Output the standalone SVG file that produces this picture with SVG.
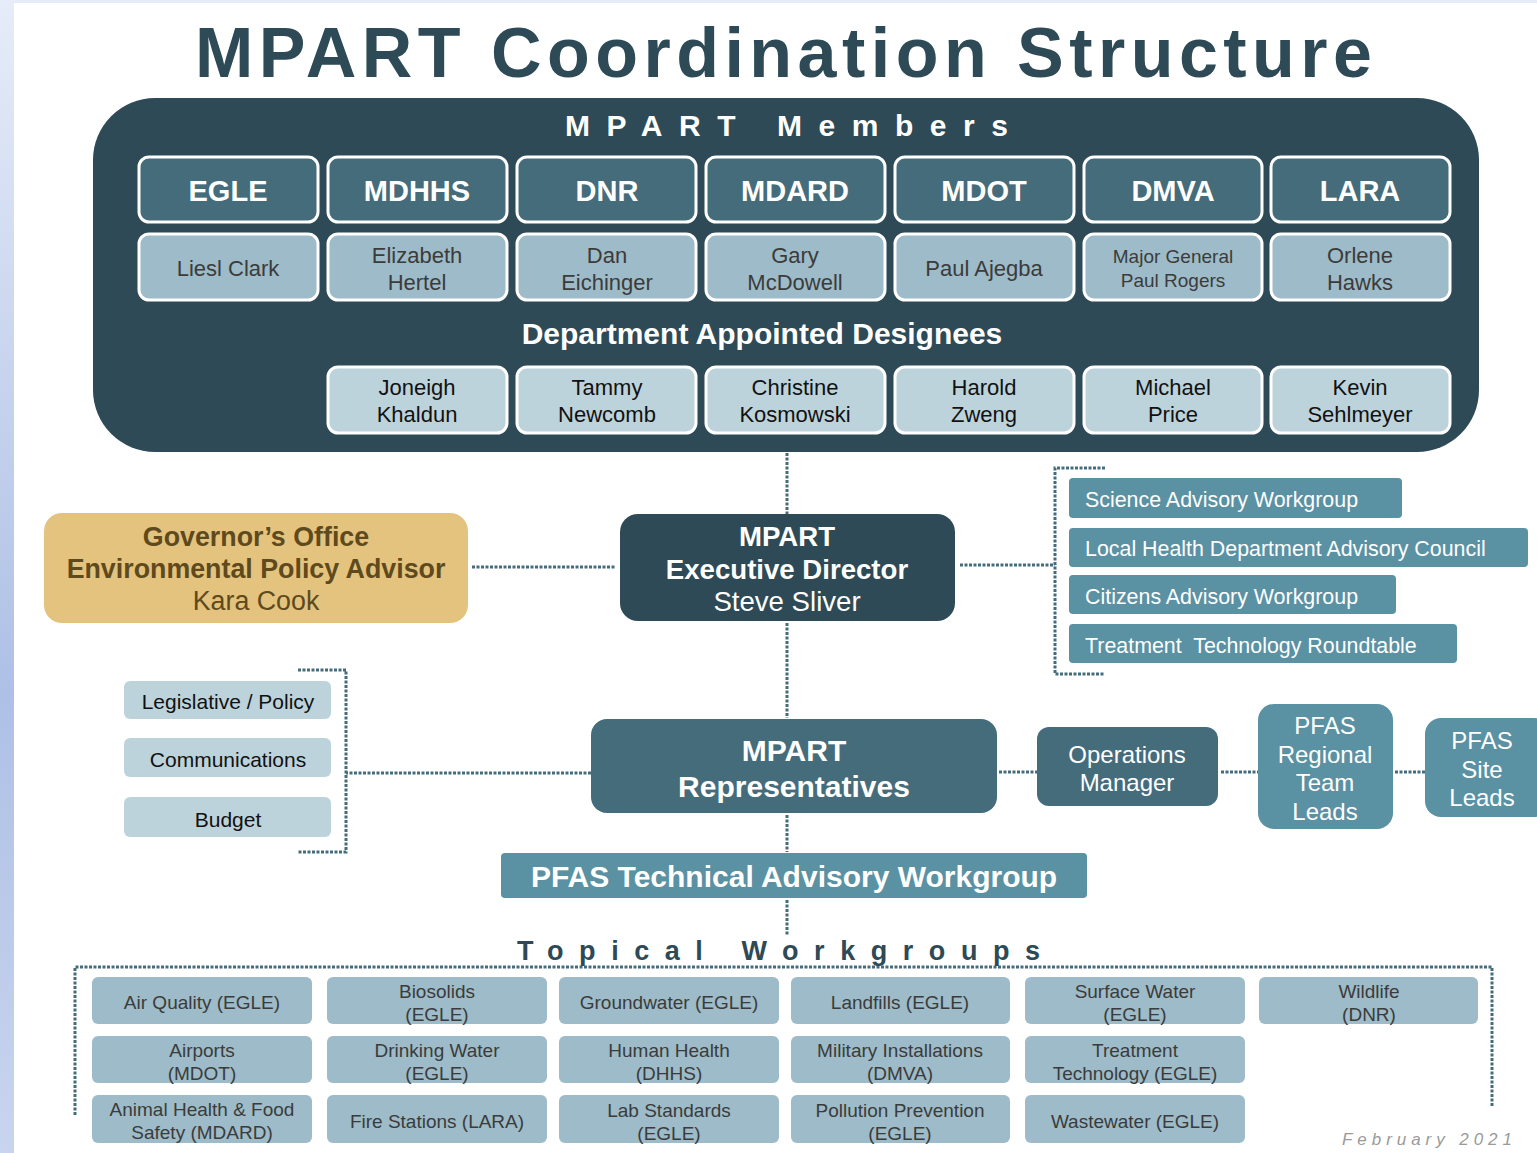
<svg xmlns="http://www.w3.org/2000/svg" width="1537" height="1153" viewBox="0 0 1537 1153">
<defs>
<linearGradient id="edge" x1="0" y1="0" x2="0" y2="1">
<stop offset="0" stop-color="#e6ecf8"/>
<stop offset="0.6" stop-color="#aec0e6"/>
<stop offset="1" stop-color="#c9d5ef"/>
</linearGradient>
<style>
text{font-family:"Liberation Sans",Arial,sans-serif;text-anchor:middle}
.dot{fill:none;stroke:#456c7c;stroke-width:3;stroke-dasharray:3 1.5}
.hdr{fill:#456c7b;stroke:#fff;stroke-width:3}
.nm{fill:#9dbbc8;stroke:#fff;stroke-width:3}
.des{fill:#bdd3dc;stroke:#fff;stroke-width:3}
.hdrt{fill:#fff;font-weight:bold;font-size:29px}
.nmt{fill:#3b3b3b;font-size:22px}
.dest{fill:#111;font-size:22px}
.adv{fill:#5a91a3}
.advt{fill:#fff;font-size:21.4px;text-anchor:start}
.side{fill:#bdd3dc}
.sidet{fill:#111;font-size:21px}
.wg{fill:#9dbbc8}
.wgt{fill:#3b3b3b;font-size:19px}
</style>
</defs>
<rect width="1537" height="1153" fill="#fff"/>
<rect x="0" y="0" width="1537" height="3" fill="#e6ebf7"/>
<rect x="0" y="0" width="14" height="1153" fill="url(#edge)"/>

<text x="195" y="77" textLength="1177" lengthAdjust="spacing" style="text-anchor:start;font-size:70px;font-weight:bold;fill:#2d4a56">MPART Coordination Structure</text>

<g id="members-panel">
<rect x="93" y="98" width="1386" height="354" rx="62" fill="#2d4a56"/>
<text x="565" y="136" textLength="443" lengthAdjust="spacing" style="text-anchor:start;font-size:30px;font-weight:bold;fill:#fff">MPART Members</text>
<text x="762" y="344" style="font-size:30px;font-weight:bold;fill:#fff">Department Appointed Designees</text>
</g>

<g id="dept-egle"><rect class="hdr" x="139" y="157" width="179" height="65" rx="10"/><text class="hdrt" x="228" y="201">EGLE</text></g>
<g id="dept-mdhhs"><rect class="hdr" x="328" y="157" width="179" height="65" rx="10"/><text class="hdrt" x="417" y="201">MDHHS</text></g>
<g id="dept-dnr"><rect class="hdr" x="517" y="157" width="179" height="65" rx="10"/><text class="hdrt" x="607" y="201">DNR</text></g>
<g id="dept-mdard"><rect class="hdr" x="706" y="157" width="179" height="65" rx="10"/><text class="hdrt" x="795" y="201">MDARD</text></g>
<g id="dept-mdot"><rect class="hdr" x="895" y="157" width="179" height="65" rx="10"/><text class="hdrt" x="984" y="201">MDOT</text></g>
<g id="dept-dmva"><rect class="hdr" x="1084" y="157" width="178" height="65" rx="10"/><text class="hdrt" x="1173" y="201">DMVA</text></g>
<g id="dept-lara"><rect class="hdr" x="1271" y="157" width="179" height="65" rx="10"/><text class="hdrt" x="1360" y="201">LARA</text></g>

<g id="name-egle"><rect class="nm" x="139" y="234" width="179" height="66" rx="10"/><text class="nmt" x="228" y="276">Liesl Clark</text></g>
<g id="name-mdhhs"><rect class="nm" x="328" y="234" width="179" height="66" rx="10"/><text class="nmt" x="417" y="263">Elizabeth</text><text class="nmt" x="417" y="290">Hertel</text></g>
<g id="name-dnr"><rect class="nm" x="517" y="234" width="179" height="66" rx="10"/><text class="nmt" x="607" y="263">Dan</text><text class="nmt" x="607" y="290">Eichinger</text></g>
<g id="name-mdard"><rect class="nm" x="706" y="234" width="179" height="66" rx="10"/><text class="nmt" x="795" y="263">Gary</text><text class="nmt" x="795" y="290">McDowell</text></g>
<g id="name-mdot"><rect class="nm" x="895" y="234" width="179" height="66" rx="10"/><text class="nmt" x="984" y="276">Paul Ajegba</text></g>
<g id="name-dmva"><rect class="nm" x="1084" y="234" width="178" height="66" rx="10"/><text class="nmt" x="1173" y="263" style="font-size:19px">Major General</text><text class="nmt" x="1173" y="287" style="font-size:19px">Paul Rogers</text></g>
<g id="name-lara"><rect class="nm" x="1271" y="234" width="179" height="66" rx="10"/><text class="nmt" x="1360" y="263">Orlene</text><text class="nmt" x="1360" y="290">Hawks</text></g>

<g id="des-mdhhs"><rect class="des" x="328" y="367" width="179" height="66" rx="10"/><text class="dest" x="417" y="395">Joneigh</text><text class="dest" x="417" y="422">Khaldun</text></g>
<g id="des-dnr"><rect class="des" x="517" y="367" width="179" height="66" rx="10"/><text class="dest" x="607" y="395">Tammy</text><text class="dest" x="607" y="422">Newcomb</text></g>
<g id="des-mdard"><rect class="des" x="706" y="367" width="179" height="66" rx="10"/><text class="dest" x="795" y="395">Christine</text><text class="dest" x="795" y="422">Kosmowski</text></g>
<g id="des-mdot"><rect class="des" x="895" y="367" width="179" height="66" rx="10"/><text class="dest" x="984" y="395">Harold</text><text class="dest" x="984" y="422">Zweng</text></g>
<g id="des-dmva"><rect class="des" x="1084" y="367" width="178" height="66" rx="10"/><text class="dest" x="1173" y="395">Michael</text><text class="dest" x="1173" y="422">Price</text></g>
<g id="des-lara"><rect class="des" x="1271" y="367" width="179" height="66" rx="10"/><text class="dest" x="1360" y="395">Kevin</text><text class="dest" x="1360" y="422">Sehlmeyer</text></g>

<g id="connectors">
<path class="dot" d="M787 453V514"/>
<path class="dot" d="M472 567H616"/>
<path class="dot" d="M960 565H1055"/>
<path class="dot" d="M1105 468H1055V674H1105"/>
<path class="dot" d="M787 623V718"/>
<path class="dot" d="M591 773H346"/>
<path class="dot" d="M298 670H346V852H298"/>
<path class="dot" d="M999 772H1037"/>
<path class="dot" d="M1221 772H1258"/>
<path class="dot" d="M1395 772H1425"/>
<path class="dot" d="M787 815V852"/>
<path class="dot" d="M787 900V935"/>
<path class="dot" d="M75 1115V967H1492V1106"/>
</g>

<g id="exec-director">
<rect x="620" y="514" width="335" height="107" rx="18" fill="#2d4a56"/>
<text x="787" y="546" style="font-size:27.6px;font-weight:bold;fill:#fff">MPART</text>
<text x="787" y="579" style="font-size:27.6px;font-weight:bold;fill:#fff">Executive Director</text>
<text x="787" y="611" style="font-size:27.6px;fill:#fff">Steve Sliver</text>
</g>

<g id="governor">
<rect x="44" y="513" width="424" height="110" rx="18" fill="#e4c37f"/>
<text x="256" y="546" style="font-size:26.8px;font-weight:bold;fill:#5e4a1c">Governor’s Office</text>
<text x="256" y="578" style="font-size:26.8px;font-weight:bold;fill:#5e4a1c">Environmental Policy Advisor</text>
<text x="256" y="610" style="font-size:26.8px;fill:#5e4a1c">Kara Cook</text>
</g>

<g id="adv-science"><rect class="adv" x="1069" y="478" width="333" height="40" rx="4"/><text class="advt" x="1085" y="507">Science Advisory Workgroup</text></g>
<g id="adv-localhealth"><rect class="adv" x="1069" y="528" width="459" height="39" rx="4"/><text class="advt" x="1085" y="556">Local Health Department Advisory Council</text></g>
<g id="adv-citizens"><rect class="adv" x="1069" y="575" width="327" height="39" rx="4"/><text class="advt" x="1085" y="604">Citizens Advisory Workgroup</text></g>
<g id="adv-treatment"><rect class="adv" x="1069" y="624" width="388" height="39" rx="4"/><text class="advt" x="1085" y="653" xml:space="preserve">Treatment  Technology Roundtable</text></g>

<g id="side-legislative"><rect class="side" x="124" y="681" width="207" height="38" rx="6"/><text class="sidet" x="228" y="709">Legislative / Policy</text></g>
<g id="side-communications"><rect class="side" x="124" y="738" width="207" height="39" rx="6"/><text class="sidet" x="228" y="767">Communications</text></g>
<g id="side-budget"><rect class="side" x="124" y="797" width="207" height="40" rx="6"/><text class="sidet" x="228" y="827">Budget</text></g>

<g id="representatives">
<rect x="591" y="719" width="406" height="94" rx="16" fill="#456c7b"/>
<text x="794" y="761" style="font-size:30px;font-weight:bold;fill:#fff">MPART</text>
<text x="794" y="797" style="font-size:30px;font-weight:bold;fill:#fff">Representatives</text>
</g>

<g id="operations-manager">
<rect x="1037" y="727" width="181" height="79" rx="12" fill="#456c7b"/>
<text x="1127" y="763" style="font-size:24px;fill:#fff">Operations</text>
<text x="1127" y="791" style="font-size:24px;fill:#fff">Manager</text>
</g>

<g id="regional-leads">
<rect x="1258" y="704" width="135" height="125" rx="16" fill="#5a91a3"/>
<text x="1325" y="734" style="font-size:24px;fill:#fff">PFAS</text>
<text x="1325" y="763" style="font-size:24px;fill:#fff">Regional</text>
<text x="1325" y="791" style="font-size:24px;fill:#fff">Team</text>
<text x="1325" y="820" style="font-size:24px;fill:#fff">Leads</text>
</g>

<g id="site-leads">
<rect x="1425" y="718" width="125" height="99" rx="16" fill="#5a91a3"/>
<text x="1482" y="749" style="font-size:24px;fill:#fff">PFAS</text>
<text x="1482" y="778" style="font-size:24px;fill:#fff">Site</text>
<text x="1482" y="806" style="font-size:24px;fill:#fff">Leads</text>
</g>

<g id="technical-advisory">
<rect x="501" y="853" width="586" height="45" rx="4" fill="#5a91a3"/>
<text x="794" y="887" style="font-size:30px;font-weight:bold;fill:#fff">PFAS Technical Advisory Workgroup</text>
</g>

<text x="517" y="960" textLength="523" lengthAdjust="spacing" style="text-anchor:start;font-size:27px;font-weight:bold;fill:#2d4a56">Topical Workgroups</text>

<g id="wg-air"><rect class="wg" x="92" y="977" width="220" height="47" rx="6"/><text class="wgt" x="202" y="1009">Air Quality (EGLE)</text></g>
<g id="wg-biosolids"><rect class="wg" x="327" y="977" width="220" height="47" rx="6"/><text class="wgt" x="437" y="998">Biosolids</text><text class="wgt" x="437" y="1021">(EGLE)</text></g>
<g id="wg-groundwater"><rect class="wg" x="559" y="977" width="220" height="47" rx="6"/><text class="wgt" x="669" y="1009">Groundwater (EGLE)</text></g>
<g id="wg-landfills"><rect class="wg" x="791" y="977" width="219" height="47" rx="6"/><text class="wgt" x="900" y="1009">Landfills (EGLE)</text></g>
<g id="wg-surface"><rect class="wg" x="1025" y="977" width="220" height="47" rx="6"/><text class="wgt" x="1135" y="998">Surface Water</text><text class="wgt" x="1135" y="1021">(EGLE)</text></g>
<g id="wg-wildlife"><rect class="wg" x="1259" y="977" width="219" height="47" rx="6"/><text class="wgt" x="1369" y="998">Wildlife</text><text class="wgt" x="1369" y="1021">(DNR)</text></g>

<g id="wg-airports"><rect class="wg" x="92" y="1036" width="220" height="47" rx="6"/><text class="wgt" x="202" y="1057">Airports</text><text class="wgt" x="202" y="1080">(MDOT)</text></g>
<g id="wg-drinking"><rect class="wg" x="327" y="1036" width="220" height="47" rx="6"/><text class="wgt" x="437" y="1057">Drinking Water</text><text class="wgt" x="437" y="1080">(EGLE)</text></g>
<g id="wg-human"><rect class="wg" x="559" y="1036" width="220" height="47" rx="6"/><text class="wgt" x="669" y="1057">Human Health</text><text class="wgt" x="669" y="1080">(DHHS)</text></g>
<g id="wg-military"><rect class="wg" x="791" y="1036" width="219" height="47" rx="6"/><text class="wgt" x="900" y="1057">Military Installations</text><text class="wgt" x="900" y="1080">(DMVA)</text></g>
<g id="wg-treatment"><rect class="wg" x="1025" y="1036" width="220" height="47" rx="6"/><text class="wgt" x="1135" y="1057">Treatment</text><text class="wgt" x="1135" y="1080">Technology (EGLE)</text></g>

<g id="wg-animal"><rect class="wg" x="92" y="1095" width="220" height="48" rx="6"/><text class="wgt" x="202" y="1116">Animal Health &amp; Food</text><text class="wgt" x="202" y="1139">Safety (MDARD)</text></g>
<g id="wg-fire"><rect class="wg" x="327" y="1095" width="220" height="48" rx="6"/><text class="wgt" x="437" y="1128">Fire Stations (LARA)</text></g>
<g id="wg-lab"><rect class="wg" x="559" y="1095" width="220" height="48" rx="6"/><text class="wgt" x="669" y="1117">Lab Standards</text><text class="wgt" x="669" y="1140">(EGLE)</text></g>
<g id="wg-pollution"><rect class="wg" x="791" y="1095" width="219" height="48" rx="6"/><text class="wgt" x="900" y="1117">Pollution Prevention</text><text class="wgt" x="900" y="1140">(EGLE)</text></g>
<g id="wg-wastewater"><rect class="wg" x="1025" y="1095" width="220" height="48" rx="6"/><text class="wgt" x="1135" y="1128">Wastewater (EGLE)</text></g>

<text x="1342" y="1145" textLength="170" lengthAdjust="spacing" style="text-anchor:start;font-size:17px;font-style:italic;fill:#9a9a9a">February 2021</text>
</svg>
